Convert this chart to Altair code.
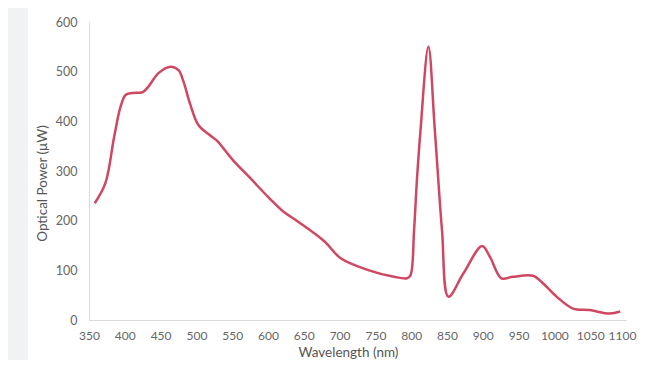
import altair as alt
import pandas as pd

wavelength = [358, 373, 385, 394, 401, 410, 425, 433, 447, 464, 475, 482, 491, 503,
              519, 528, 551, 575, 602, 620, 642, 679, 701, 739, 776, 794, 799, 804,
              808, 813, 824, 833, 843, 852, 873, 899, 910, 926, 942, 970, 984, 1003,
              1026, 1049, 1077, 1092]
power = [235, 276, 368, 429, 453, 457, 459, 470, 497, 510, 503, 480, 436, 392,
         372, 362, 322, 286, 245, 220, 198, 158, 125, 101, 87, 84, 90, 181,
         282, 382, 550, 382, 181, 47, 94, 149, 127, 84, 87, 89, 74, 47,
         23, 20, 13, 17]

x_ticks = list(range(350, 1101, 50))
y_ticks = list(range(0, 601, 100))

df = pd.DataFrame({"wavelength": wavelength, "power": power})

FONT = "Lato"

panel = alt.Chart(pd.DataFrame({"a": [0]})).mark_rect(color="white").encode(
    x=alt.value(-61), x2=alt.value(600), y=alt.value(-14), y2=alt.value(345)
)

line = alt.Chart(df).mark_line(
    color="#cf4761", strokeWidth=2.5, interpolate="catmull-rom"
).encode(
    x=alt.X("wavelength:Q",
            scale=alt.Scale(domain=[350, 1100], nice=False, zero=False),
            axis=alt.Axis(values=x_ticks, format="d", title="Wavelength (nm)", grid=False,
                          ticks=False, labelPadding=10, titlePadding=4,
                          labelFontSize=12,
                          labelOffset=alt.expr("datum.value == 1100 ? -4 : 0"),
                          titleX=259, labelFlush=False, zindex=1)),
    y=alt.Y("power:Q",
            scale=alt.Scale(domain=[0, 600], nice=False),
            axis=alt.Axis(values=y_ticks, format="d", title="Optical Power (\u03bcW)", grid=False,
                          ticks=False, labelPadding=12, titleX=-47, titleY=161,
                          titleBaseline="middle", zindex=1)),
)

chart = (panel + line).properties(
    width=537, height=298,
    background="#f1f2f4",
    padding={"left": 81, "top": 14, "right": 11, "bottom": 40},
    autosize=alt.AutoSizeParams(type="none"),
).configure_view(stroke=None).configure_axis(
    domainColor="#d9d9d9", domainWidth=1,
    labelFont=FONT, labelFontSize=12.5, labelColor="#666666",
    titleFont=FONT, titleFontSize=13.5, titleColor="#555555", titleFontWeight="normal",
)

chart.save("out.html", embed_options={"renderer": "svg", "actions": False})
